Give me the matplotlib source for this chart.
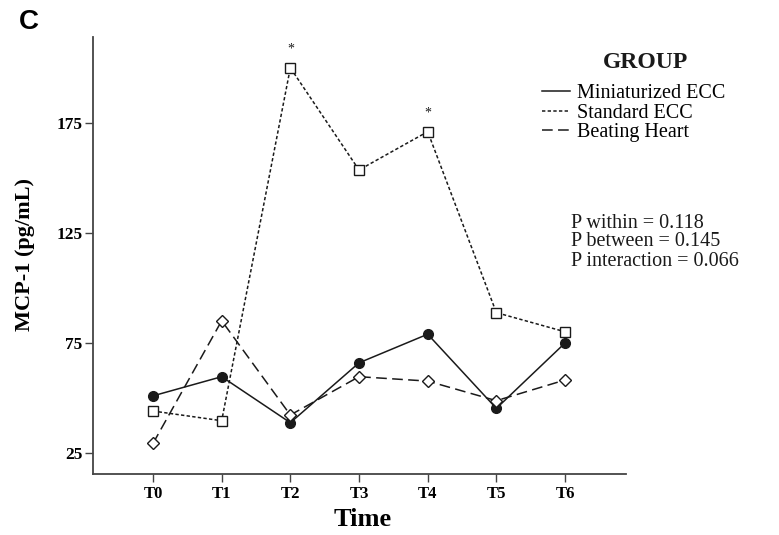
import matplotlib
matplotlib.use("Agg")
import matplotlib.pyplot as plt
from matplotlib.lines import Line2D

# ---- data ----
time_labels = ["T0", "T1", "T2", "T3", "T4", "T5", "T6"]
miniaturized_ecc = [51, 59.7, 38.8, 66, 79, 45.3, 75]
standard_ecc = [44.1, 39.7, 200, 153.6, 171, 88.8, 80.1]
beating_heart = [29.4, 85.1, 42.3, 59.7, 57.7, 48.8, 58.2]
significant_idx = [2, 4]
y_ticks = [25, 75, 125, 175]
group_names = ["Miniaturized ECC", "Standard ECC", "Beating Heart"]
p_text = ["P within = 0.118", "P between = 0.145", "P interaction = 0.066"]

serif = ["Liberation Serif", "DejaVu Serif"]
plt.rcParams["font.family"] = serif

W, H = 779, 535
fig = plt.figure(figsize=(W / 100, H / 100), dpi=100)
L, R, B, T = 93, 626, 474, 37
ax = fig.add_axes([L / W, 1 - B / H, (R - L) / W, (B - T) / H])

x = list(range(len(time_labels)))
col = "#1a1a1a"
lw = 1.1
ls_std = (0, (2.2, 1.5))
ls_bh = (0, (7, 3.5))

ax.plot(x, miniaturized_ecc, color=col, lw=lw, ls="-", marker="o",
        markersize=7, markerfacecolor=col, markeredgecolor=col, zorder=3)
ax.plot(x, standard_ecc, color=col, lw=lw, ls=ls_std, marker="s",
        markersize=7, markerfacecolor="white", markeredgecolor=col,
        markeredgewidth=1.0, zorder=3)
ax.plot(x, beating_heart, color=col, lw=lw, ls=ls_bh, marker="D",
        markersize=6.5, markerfacecolor="white", markeredgecolor=col,
        markeredgewidth=1.0, zorder=3)

for i in significant_idx:
    ax.annotate("*", (x[i], standard_ecc[i]), xytext=(0, 9),
                textcoords="offset points", ha="center", va="bottom",
                fontsize=10, color=col)

ax.set_xlim(-0.874, 6.888)
ax.set_ylim(15.5, 214)
ax.set_xticks(x)
ax.set_xticklabels(time_labels, fontsize=12, fontweight="bold")
ax.set_yticks(y_ticks)
ax.set_yticklabels([str(v) for v in y_ticks], fontsize=12.5, fontweight="bold")
ax.tick_params(direction="out", length=6, width=1.0, color="#444444")
ax.tick_params(axis="y", pad=1.5)
ax.tick_params(axis="x", pad=3)

for s in ["top", "right"]:
    ax.spines[s].set_visible(False)
for s in ["left", "bottom"]:
    ax.spines[s].set_color("#444444")
    ax.spines[s].set_linewidth(1.3)

ax.set_xlabel("Time", fontsize=19, fontweight="bold", va="center")
ax.xaxis.set_label_coords((363 - L) / (R - L), (B - 520) / (B - T))
ax.set_ylabel("MCP-1 (pg/mL)", fontsize=16, fontweight="bold", va="center")
ax.yaxis.set_label_coords((25 - L) / (R - L), (B - 255) / (B - T))

handles = [Line2D([], [], color=col, lw=lw, ls="-"),
           Line2D([], [], color=col, lw=lw, ls=ls_std),
           Line2D([], [], color=col, lw=lw, ls=ls_bh)]
leg = fig.legend(handles, group_names, loc="center left",
                 bbox_to_anchor=(542 / W, 1 - 113 / H), frameon=False,
                 fontsize=14.5, handlelength=1.38, handletextpad=0.35,
                 labelspacing=0.03, borderaxespad=0, borderpad=0)
fig.text(645 / W, 1 - 63 / H, "GROUP", fontsize=17, fontweight="bold",
         ha="center", va="center", color=col)

fig.text(571 / W, 1 - 242 / H, "\n".join(p_text), fontsize=14.5,
         ha="left", va="center", linespacing=1.0, color=col)

fig.text(29 / W, 1 - 22 / H, "C", fontsize=20, fontweight="bold",
         family=["Liberation Sans", "DejaVu Sans"], ha="center", va="center")

fig.savefig("out.png", dpi=100)
